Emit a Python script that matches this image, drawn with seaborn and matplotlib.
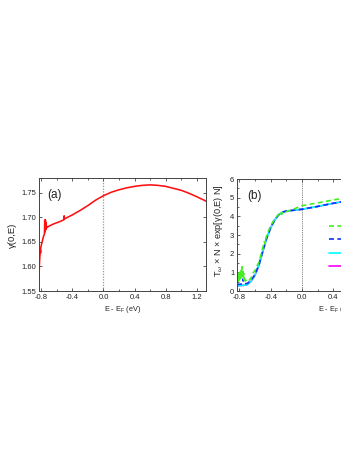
import matplotlib
matplotlib.use("Agg")
import matplotlib.pyplot as plt
from matplotlib.patches import Rectangle
from matplotlib.ticker import MultipleLocator, FormatStrFormatter
import seaborn as sns
import pandas as pd

# ---------------- data ----------------
# panel (a): gamma(0,E)
red_E = [-0.830, -0.826, -0.822, -0.818, -0.815, -0.812, -0.810, -0.808, -0.805,
         -0.800, -0.795, -0.790, -0.785, -0.780, -0.775, -0.770, -0.765, -0.760,
         -0.756, -0.754, -0.752, -0.750, -0.748, -0.746, -0.744, -0.742, -0.740,
         -0.738, -0.736, -0.734, -0.730, -0.720, -0.700, -0.650, -0.600, -0.550,
         -0.510, -0.506, -0.503, -0.500, -0.450, -0.400, -0.300, -0.200, -0.100,
         0.000, 0.100, 0.200, 0.300, 0.400, 0.500, 0.600, 0.700, 0.800, 0.900,
         1.000, 1.100, 1.200, 1.320]
red_gamma = [1.575, 1.597, 1.612, 1.622, 1.628, 1.633, 1.627, 1.637, 1.640,
             1.643, 1.647, 1.650, 1.653, 1.656, 1.659, 1.662, 1.664, 1.666,
             1.694, 1.670, 1.692, 1.672, 1.695, 1.674, 1.690, 1.676, 1.686,
             1.677, 1.684, 1.678, 1.679, 1.680, 1.682, 1.686, 1.689, 1.692,
             1.695, 1.703, 1.696, 1.697, 1.701, 1.705, 1.714, 1.724, 1.735,
             1.744, 1.751, 1.756, 1.760, 1.763, 1.765, 1.766, 1.765, 1.763, 1.759,
             1.755, 1.749, 1.742, 1.733]

# panel (b): T x N x exp[gamma N]
green_E = [-0.830, -0.825, -0.820, -0.815, -0.810, -0.805, -0.800, -0.795, -0.790,
           -0.785, -0.780, -0.775, -0.770, -0.765, -0.760, -0.755, -0.750, -0.745,
           -0.740, -0.735, -0.730, -0.720, -0.710, -0.700, -0.680, -0.650, -0.620,
           -0.600, -0.580, -0.550, -0.520, -0.500, -0.480, -0.470, -0.460, -0.440,
           -0.400, -0.350, -0.300, -0.280, -0.270, -0.260, -0.250, -0.230, -0.200,
           -0.100, 0.000, 0.200, 0.400, 0.600, 0.800, 1.000, 1.200, 1.400, 1.700]
green_T = [0.45, 0.80, 0.50, 0.95, 0.55, 0.85, 0.60, 1.00, 0.65, 0.95, 0.70,
           1.10, 0.75, 1.30, 0.80, 1.05, 0.70, 0.95, 0.60, 0.80, 0.55, 0.60,
           0.50, 0.50, 0.55, 0.70, 1.00, 1.10, 1.30, 1.55, 2.00, 2.35, 2.65,
           2.50, 2.85, 3.10, 3.50, 3.85, 4.10, 4.05, 4.20, 4.10, 4.20, 4.15,
           4.25, 4.40, 4.57, 4.72, 4.88, 5.02, 5.15, 5.27, 5.38, 5.48, 5.62]

blue_E = [-0.830, -0.800, -0.770, -0.760, -0.752, -0.745, -0.700, -0.650, -0.600,
          -0.550, -0.500, -0.450, -0.400, -0.350, -0.300, -0.250, -0.200, -0.100,
          0.000, 0.200, 0.400, 0.600, 0.800, 1.000, 1.200, 1.400, 1.700]
blue_T = [0.35, 0.36, 0.37, 0.38, 0.65, 0.40, 0.40, 0.58, 0.88, 1.40, 2.15,
          2.85, 3.40, 3.80, 4.08, 4.22, 4.29, 4.33, 4.38, 4.53, 4.70, 4.84,
          4.97, 5.09, 5.20, 5.30, 5.44]

cyan_E = [-0.830, -0.800, -0.750, -0.700, -0.650, -0.600, -0.550, -0.500, -0.450,
          -0.400, -0.350, -0.300, -0.250, -0.200, -0.100, 0.000, 0.200, 0.400,
          0.600, 0.800, 1.000, 1.200, 1.400, 1.700]
cyan_T = [0.28, 0.29, 0.30, 0.34, 0.52, 0.86, 1.38, 2.13, 2.84, 3.39, 3.79,
          4.07, 4.21, 4.28, 4.33, 4.38, 4.53, 4.70, 4.84, 4.97, 5.09, 5.20,
          5.30, 5.44]
magenta_E = list(cyan_E)
magenta_T = list(cyan_T)

xticks = [-0.8, -0.4, 0.0, 0.4, 0.8, 1.2, 1.6]
yticks_a = [1.55, 1.60, 1.65, 1.70, 1.75]
yticks_b = [0, 1, 2, 3, 4, 5, 6]

# ---------------- style ----------------
sns.set_theme(style="ticks")
plt.rcParams['font.family'] = ['Liberation Sans', 'DejaVu Sans']
plt.rcParams['mathtext.fontset'] = 'custom'
plt.rcParams['mathtext.rm'] = 'Liberation Sans'
plt.rcParams['mathtext.it'] = 'Liberation Sans:italic'
plt.rcParams['mathtext.sf'] = 'Liberation Sans'
TXT = '#222222'
SP = '#444444'

fig = plt.figure(figsize=(3.49, 4.51), dpi=100)
axA = fig.add_axes([39/349, 1-291/451, 167/349, 113/451])
axB = fig.add_axes([237/349, 1-291/451, 199/349, 112/451])

def style(ax):
    for s in ax.spines.values():
        s.set_color(SP)
        s.set_linewidth(0.7)
    ax.tick_params(which='both', direction='in', top=True, right=True,
                   colors=SP, labelcolor=TXT, labelsize=5.5, pad=2, width=0.6)
    ax.tick_params(which='major', length=2.5)
    ax.tick_params(which='minor', length=1.5)
    ax.xaxis.set_minor_locator(MultipleLocator(0.2))

# panel (a)
dfa = pd.DataFrame({'E': red_E, 'g': red_gamma})
sns.lineplot(data=dfa, x='E', y='g', ax=axA, color='#ff1010', lw=1.15,
             sort=False, estimator=None)
axA.axvline(0.0, color='#999999', lw=0.9, ls=(0, (1, 1.2)), zorder=0)
axA.set_xlim(-0.83, 1.32)
axA.set_ylim(1.55, 1.78)
axA.set_xticks(xticks[:-1])
axA.set_yticks(yticks_a)
axA.yaxis.set_major_formatter(FormatStrFormatter('%.2f'))
axA.xaxis.set_major_formatter(FormatStrFormatter('%.1f'))
style(axA)
axA.set_xlabel(r"E - E$_\mathrm{F}$ (eV)", fontsize=5.3, color=TXT, labelpad=2)
axA.set_ylabel("γ(0,E)", fontsize=6.8, color=TXT)
axA.yaxis.set_label_coords(-0.13, 0.49)
axA.text(0.05, 0.85, "(a)", transform=axA.transAxes, fontsize=8.5,
         color=TXT, va='center', ha='left')

# panel (b)
lw = 1.2
sns.lineplot(x=magenta_E, y=magenta_T, ax=axB, color='#ff00ff', lw=lw,
             sort=False, estimator=None, label=' ')
sns.lineplot(x=cyan_E, y=cyan_T, ax=axB, color='#00ffff', lw=lw,
             sort=False, estimator=None, label=' ')
sns.lineplot(x=blue_E, y=blue_T, ax=axB, color='#1030ff', lw=lw,
             sort=False, estimator=None, label=' ', dashes=False)
sns.lineplot(x=green_E, y=green_T, ax=axB, color='#44ee22', lw=lw,
             sort=False, estimator=None, label=' ', dashes=False)
lines = axB.get_lines()
lines[2].set_dashes((3, 2))
lines[3].set_dashes((3, 2))
axB.axvline(0.0, color='#555555', lw=0.6, ls=(0, (1, 1.2)), zorder=0)
axB.set_xlim(-0.83, 1.71)
axB.set_ylim(0, 6)
axB.set_xticks(xticks)
axB.set_yticks(yticks_b)
axB.xaxis.set_major_formatter(FormatStrFormatter('%.1f'))
axB.yaxis.set_minor_locator(MultipleLocator(0.5))
style(axB)
axB.set_xlabel(r"E - E$_\mathrm{F}$ (eV)", fontsize=5.3, color=TXT, labelpad=2)
axB.set_ylabel(r"T$_\omega$ × N × exp[γ(0,E) N]", fontsize=6.6, color=TXT)
axB.yaxis.set_label_coords(-0.058, 0.54)
axB.text(0.05, 0.85, "(b)", transform=axB.transAxes, fontsize=8.5,
         color=TXT, va='center', ha='left')

h = lines[:4]
order = [h[3], h[2], h[1], h[0]]
leg = axB.legend(order, [' ', ' ', ' ', ' '], loc='upper left',
                 bbox_to_anchor=(0.46, 0.61), frameon=False, fontsize=6,
                 handlelength=2.2, labelspacing=0.68, borderaxespad=0,
                 borderpad=0, handletextpad=0.4)

# the reference is cut off at the right edge
fig.add_artist(Rectangle((341/349, 0), 8/349, 1, transform=fig.transFigure,
                         facecolor='white', edgecolor='none', zorder=100))

fig.savefig("out.png", dpi=100)
